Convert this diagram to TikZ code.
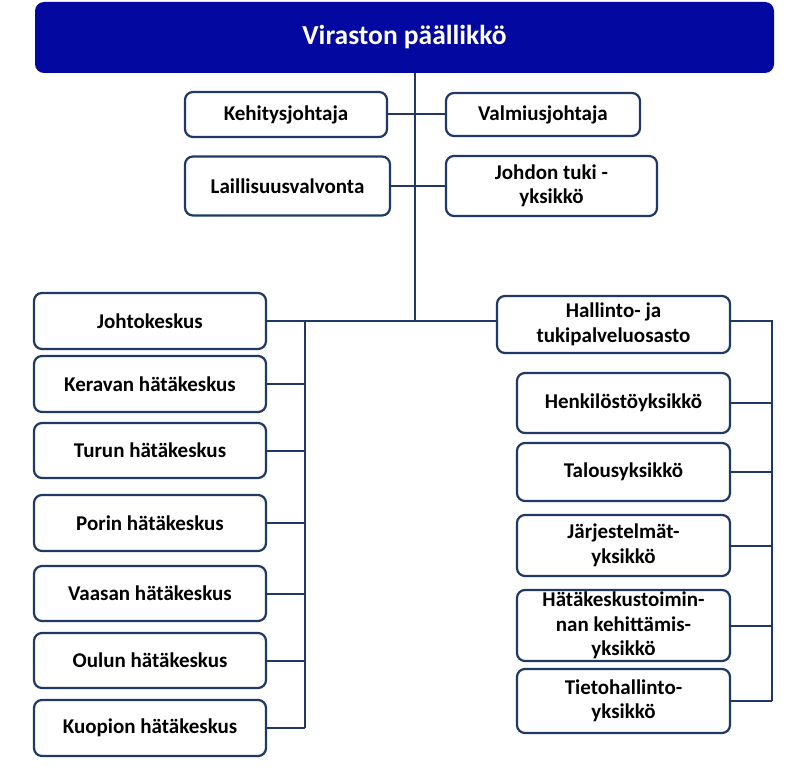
\documentclass[tikz,border=0pt]{standalone}
\usepackage{fontspec}
\setmainfont{Carlito}
\definecolor{navy}{RGB}{31,56,100}
\definecolor{topblue}{RGB}{2,8,160}
\tikzset{
  unitbox/.style={draw=navy, line width=2.2pt, rounded corners=8pt, fill=white,
    inner sep=0pt, align=center, font=\fontsize{21}{24.5}\selectfont\bfseries},
  conn/.style={draw=navy, line width=2pt}
}
\begin{document}
\begin{tikzpicture}[x=1pt,y=-1pt]
\useasboundingbox (0,0) rectangle (798,781);
\node[fill=topblue, rounded corners=9pt, inner sep=0pt, minimum width=739pt, minimum height=71pt,
  text=white, font=\fontsize{27.5}{32}\selectfont\bfseries] (top) at (404.5,37.5) {Viraston päällikkö};
% upper staff
\node[unitbox, minimum width=202pt, minimum height=45pt] (keh) at (286,114.5) {Kehitysjohtaja};
\node[unitbox, minimum width=194pt, minimum height=43pt] (val) at (543,114.5) {Valmiusjohtaja};
\node[unitbox, minimum width=205pt, minimum height=59pt] (lai) at (287.5,186) {Laillisuusvalvonta};
\node[unitbox, minimum width=211pt, minimum height=60pt] (joh) at (551.5,186) {Johdon tuki -\\yksikkö};
% left column
\node[unitbox, minimum width=232pt, minimum height=56pt] (jk)  at (150,321)   {Johtokeskus};
\node[unitbox, minimum width=232pt, minimum height=56pt] (ker) at (150,384)   {Keravan hätäkeskus};
\node[unitbox, minimum width=232pt, minimum height=55pt] (tur) at (150,450.5) {Turun hätäkeskus};
\node[unitbox, minimum width=232pt, minimum height=56pt] (por) at (150,523)   {Porin hätäkeskus};
\node[unitbox, minimum width=232pt, minimum height=55pt] (vaa) at (150,593.5) {Vaasan hätäkeskus};
\node[unitbox, minimum width=232pt, minimum height=55pt] (oul) at (150,660.5) {Oulun hätäkeskus};
\node[unitbox, minimum width=232pt, minimum height=56pt] (kuo) at (150,728)   {Kuopion hätäkeskus};
% right column
\node[unitbox, minimum width=233pt, minimum height=57pt] (hal) at (613.5,324.5) {Hallinto- ja\\tukipalveluosasto};
\node[unitbox, minimum width=213pt, minimum height=60pt] (hen) at (623.5,403)   {Henkilöstöyksikkö};
\node[unitbox, minimum width=213pt, minimum height=58pt] (tal) at (623.5,472)   {Talousyksikkö};
\node[unitbox, minimum width=213pt, minimum height=61pt] (jar) at (623.5,545.5) {Järjestelmät-\\yksikkö};
\node[unitbox, minimum width=213pt, minimum height=71pt] (hat) at (623.5,625.5) {Hätäkeskustoimin-\\nan kehittämis-\\yksikkö};
\node[unitbox, minimum width=213pt, minimum height=64pt] (tie) at (623.5,701)   {Tietohallinto-\\yksikkö};
% bus coordinates
\coordinate (tr) at (415,321);
\coordinate (lb) at (305,321);
\coordinate (rb) at (772,321);
% connectors
\draw[conn] (tr |- top.south) -- (tr);
\draw[conn] (keh.east) -- (val.west);
\draw[conn] (lai.east) -- (joh.west);
\draw[conn] (jk.east) -- (jk.east -| hal.west);
\draw[conn] (lb) -- (lb |- kuo.east);
\foreach \n in {ker,tur,por,vaa,oul,kuo} \draw[conn] (\n.east) -- (\n.east -| lb);
\draw[conn] (rb -| hal.east) -- (rb) -- (rb |- tie.east);
\foreach \n in {hen,tal,jar,hat,tie} \draw[conn] (\n.east) -- (\n.east -| rb);
\end{tikzpicture}
\end{document}
